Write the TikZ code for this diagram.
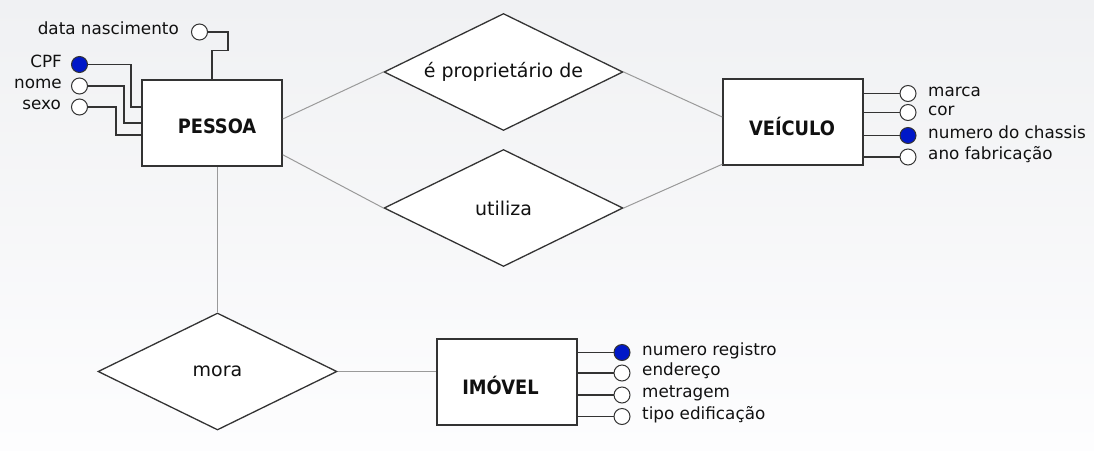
\documentclass[tikz,border=0pt]{standalone}
\usepackage{fontspec}
\setmainfont{DejaVu Sans}
\newfontfamily\titlefont{DejaVu Sans Condensed Bold}
\usetikzlibrary{shapes.geometric}
\definecolor{edge}{HTML}{333333}
\definecolor{relline}{HTML}{9A9A9A}
\definecolor{keyblue}{HTML}{0018C8}
\definecolor{bgtop}{HTML}{F0F1F3}
\definecolor{bgbot}{HTML}{FDFDFE}
\definecolor{ink}{HTML}{111111}
\begin{document}
\begin{tikzpicture}[x=1pt,y=-1pt,
  entity/.style={draw=edge, line width=1.5pt, fill=white, rectangle, minimum width=140pt, minimum height=86pt, inner sep=0pt},
  title/.style={font=\titlefont\fontsize{19.8}{23}\selectfont, text=ink, inner sep=0pt},
  rel/.style={draw=edge, line width=1.3pt, fill=white, diamond, aspect=2.04, minimum width=239pt, minimum height=117pt, inner sep=0pt, font=\fontsize{19}{23}\selectfont, text=ink},
  relcon/.style={draw=relline, line width=1pt},
  attr/.style={circle, draw=edge, line width=1pt, fill=white, minimum size=16pt, inner sep=0pt},
  keyattr/.style={attr, fill=keyblue},
  attcon/.style={draw=edge, line width=1.4pt},
  lbl/.style={font=\fontsize{16.8}{20}\selectfont, text=ink, inner sep=0pt},
  lbll/.style={lbl, anchor=mid east},
  lblr/.style={lbl, anchor=mid west}]
\shade[top color=bgtop, bottom color=bgbot] (0,0) rectangle (1094,450);
\useasboundingbox (0,0) rectangle (1094,450);

% relationships
\node[rel] (prop) at (503.5,72) {é proprietário de};
\node[rel] (util) at (503.5,208) {utiliza};
\node[rel] (mora) at (217.5,371.5) {mora};

% entities
\node[entity] (pessoa) at (212,123) {};
\node[title] (tpessoa) at (217,126.5) {PESSOA};
\node[entity] (veic) at (793,122) {};
\node[title] (tveic) at (792,126.5) {VEÍCULO};
\node[entity] (imovel) at (507,382) {};
\node[title] (timovel) at (500.5,385) {IMÓVEL};

% relationship connectors
\draw[relcon] ([yshift=4pt]pessoa.east) -- (prop.west);
\draw[relcon] ([yshift=12pt]pessoa.south east) -- (util.west);
\draw[relcon] (prop.east) -- ([yshift=5pt]veic.west);
\draw[relcon] (util.east) -- ([yshift=1.5pt]veic.south west);
\draw[relcon] ([xshift=5.5pt]pessoa.south) -- (mora.north);
\draw[relcon] (mora.east) -- (mora.east -| imovel.west);

% PESSOA attributes
\node[attr] (dn) at (199.5,32) {};
\node[lbll] (tdn) at (179,32) {data nascimento};
\node[keyattr] (cpf) at (79.5,64.5) {};
\node[lbll] (tcpf) at (62,64.5) {CPF};
\node[attr] (nome) at (79.5,86) {};
\node[lbll] (tnome) at (62,86) {nome};
\node[attr] (sexo) at (79.5,107) {};
\node[lbll] (tsexo) at (61,107) {sexo};
\draw[attcon] (dn.east) -- (228,32) -- (228,50.5) -- (212,50.5) -- (pessoa.north);
\draw[attcon] (cpf.east) -- (131,64.5) -- (131,107) -- (pessoa.west |- 131,107);
\draw[attcon] (nome.east) -- (124,86) -- (124,123) -- (pessoa.west |- 124,123);
\draw[attcon] (sexo.east) -- (116,107) -- (116,135) -- (pessoa.west |- 116,135);

% VEICULO attributes
\node[attr] (marca) at (908,93.5) {};
\node[lblr] (tmarca) at (928,93.5) {marca};
\node[attr] (cor) at (908,112.5) {};
\node[lblr] (tcor) at (928,112.5) {cor};
\node[keyattr] (chassis) at (908,135.5) {};
\node[lblr] (tchassis) at (928,135.5) {numero do chassis};
\node[attr] (ano) at (908,157) {};
\node[lblr] (tano) at (928,157) {ano fabricação};
\foreach \a in {marca,cor,chassis,ano}
  \draw[attcon] (veic.east |- \a.west) -- (\a.west);

% IMOVEL attributes
\node[keyattr] (reg) at (622,352.5) {};
\node[lblr] (treg) at (642,352.5) {numero registro};
\node[attr] (end) at (622,373) {};
\node[lblr] (tend) at (642,373) {endereço};
\node[attr] (met) at (622,395) {};
\node[lblr] (tmet) at (642,395) {metragem};
\node[attr] (tipo) at (622,416.5) {};
\node[lblr] (ttipo) at (642,416.5) {tipo edificação};
\foreach \a in {reg,end,met,tipo}
  \draw[attcon] (imovel.east |- \a.west) -- (\a.west);
\end{tikzpicture}
\end{document}
